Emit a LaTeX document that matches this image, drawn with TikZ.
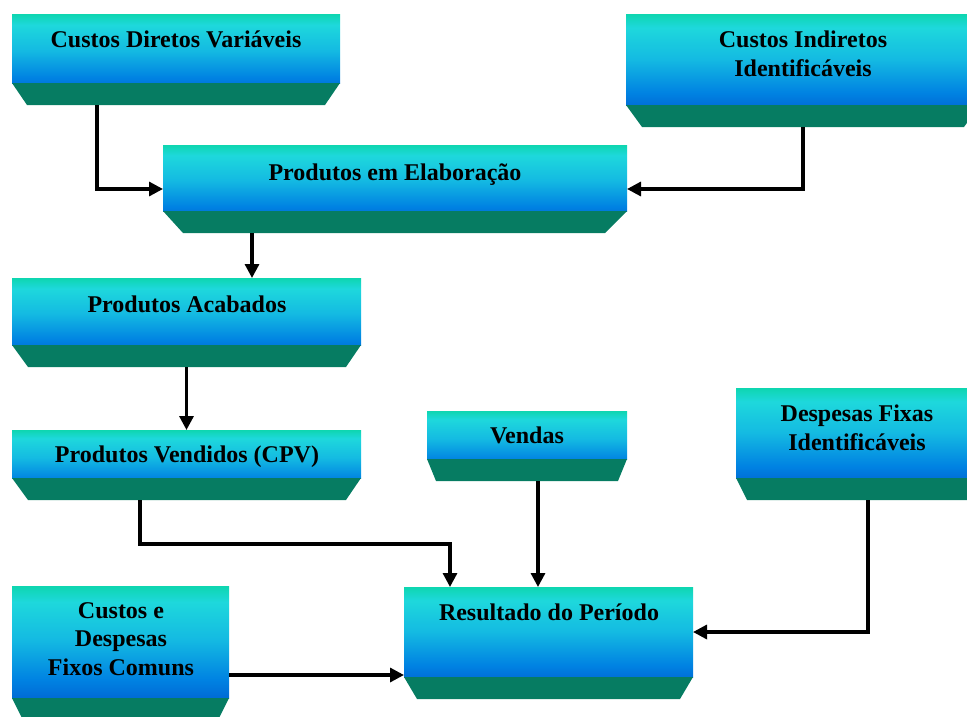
\documentclass[tikz,border=0pt]{standalone}
\usepackage{fontspec}
\setmainfont{Liberation Serif}
\usetikzlibrary{arrows.meta}

% gradient of the panel face, bottom (0bp) to top (100bp); the face spans 25bp..75bp
\definecolor{pb0}{RGB}{14,214,176}
\definecolor{pb1}{RGB}{30,216,220}
\definecolor{pb2}{RGB}{20,186,226}
\definecolor{pb3}{RGB}{0,130,226}
\definecolor{pb4}{RGB}{0,104,212}
\definecolor{pb5}{RGB}{4,76,186}
\definecolor{basegreen}{RGB}{6,124,98}
\pgfdeclareverticalshading{panelshade}{100bp}{color(0bp)=(pb5); color(25bp)=(pb5); color(32.5bp)=(pb4); color(40bp)=(pb3); color(55bp)=(pb2); color(69bp)=(pb1); color(75bp)=(pb0); color(100bp)=(pb0)}

\tikzset{
  % panel: shaded face on top of a 22pt green bevel; #1/#2 = left/right bevel inset
  panel/.style 2 args={
    inner sep=0pt, outer sep=0pt, draw=none,
    path picture={
      \shade[shading=panelshade]
        (path picture bounding box.north west) rectangle
        ([yshift=22pt]path picture bounding box.south east);
      \fill[basegreen]
        ([yshift=22pt]path picture bounding box.south west) --
        ([yshift=22pt]path picture bounding box.south east) --
        ([xshift=-#2]path picture bounding box.south east) --
        ([xshift=#1]path picture bounding box.south west) -- cycle;
    }
  },
  % captions sit on the baseline of their last line
  lbl/.style={anchor=base, align=center, inner sep=0pt,
    font=\bfseries\fontsize{24}{28.5}\selectfont},
  conn/.style={line width=3.2pt, -{Triangle[length=14pt,width=14pt]}}
}

\begin{document}
\begin{tikzpicture}[x=1pt,y=-1pt]
\useasboundingbox (0,0) rectangle (967,716);
\clip (0,0) rectangle (967,716);

% panels (full node = face + bevel)
\node[panel={15pt}{15pt}, minimum width=328pt, minimum height=91pt]  (a) at (176,59.5)  {};
\node[panel={16pt}{16pt}, minimum width=354pt, minimum height=113pt] (c) at (803,70.5)  {};
\node[panel={20pt}{22pt}, minimum width=464pt, minimum height=88pt]  (b) at (395,189)   {};
\node[panel={16pt}{15pt}, minimum width=349pt, minimum height=89pt]  (d) at (186.5,322.5) {};
\node[panel={16pt}{15pt}, minimum width=349pt, minimum height=70pt]  (e) at (186.5,465) {};
\node[panel={9pt}{9pt},   minimum width=200pt, minimum height=70pt]  (v) at (527,446)   {};
\node[panel={11pt}{11pt}, minimum width=242pt, minimum height=112pt] (f) at (857,444)   {};
\node[panel={13pt}{13pt}, minimum width=289pt, minimum height=112pt] (r) at (548.5,643) {};
\node[panel={11pt}{11pt}, minimum width=217pt, minimum height=134pt] (g) at (120.5,653) {};

% captions
\node[lbl] (a-t) at (176,47)  {Custos Diretos Variáveis};
\node[lbl] (c-t) at (803,76)  {Custos Indiretos\\Identificáveis};
\node[lbl] (b-t) at (395,180) {Produtos em Elaboração};
\node[lbl] (d-t) at (187,312) {Produtos Acabados};
\node[lbl] (e-t) at (187,462) {Produtos Vendidos (CPV)};
\node[lbl] (v-t) at (527,443) {Vendas};
\node[lbl] (f-t) at (857,450) {Despesas Fixas\\Identificáveis};
\node[lbl] (r-t) at (549,620) {Resultado do Período};
\node[lbl] (g-t) at (121,675) {Custos e\\Despesas\\Fixos Comuns};

% connectors
\draw[conn] ([xshift=85pt]a.south west) |- (b.west);
\draw[conn] (c.south) |- (b.east);
\draw[conn] ([xshift=89pt]b.south west) -- ([xshift=240pt]d.north west);
\draw[conn] (d.south) -- (e.north);
\draw[conn] ([xshift=128pt]e.south west) -- ++(0,44) -| ([xshift=46pt]r.north west);
\draw[conn] ([xshift=111pt]v.south west) -- ([xshift=134pt]r.north west);
\draw[conn] ([xshift=132pt]f.south west) |- ([yshift=11pt]r.east);
\draw[conn] ([yshift=-22pt]g.east) -- ([yshift=-32pt]r.west);
\end{tikzpicture}
\end{document}
